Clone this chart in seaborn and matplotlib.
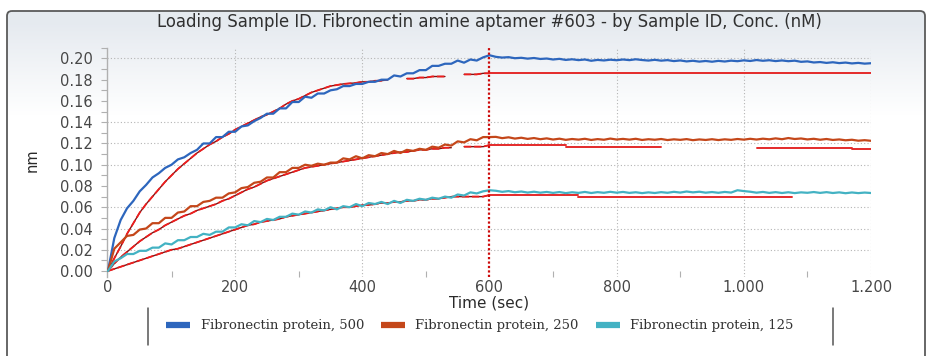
import numpy as np
import pandas as pd
import matplotlib
matplotlib.use("Agg")
import matplotlib.pyplot as plt
import seaborn as sns
from matplotlib.lines import Line2D
from matplotlib.patches import FancyBboxPatch

# ---------------- data ----------------
TIME = list(range(0, 1201, 10))          # seconds, sampling grid of the sensorgram
ASSOC_TIME = list(range(0, 601, 10))     # association phase grid for the fits

SERIES = ["Fibronectin protein, 500", "Fibronectin protein, 250", "Fibronectin protein, 125"]
COLORS = ["#2d66bd", "#c4471a", "#43b2c3"]

resp_500 = [
    0.000, 0.031, 0.048, 0.059, 0.066, 0.075, 0.081, 0.088, 0.092, 0.097,
    0.100, 0.105, 0.107, 0.111, 0.114, 0.120, 0.120, 0.126, 0.126, 0.131,
    0.131, 0.136, 0.137, 0.141, 0.144, 0.148, 0.148, 0.153, 0.153, 0.159,
    0.159, 0.164, 0.163, 0.167, 0.167, 0.170, 0.171, 0.174, 0.174, 0.176,
    0.176, 0.178, 0.178, 0.180, 0.180, 0.184, 0.183, 0.186, 0.186, 0.189,
    0.189, 0.193, 0.193, 0.195, 0.195, 0.198, 0.196, 0.199, 0.198, 0.201,
    0.203,
    0.2015, 0.2008, 0.2012, 0.2002, 0.2006, 0.1998, 0.2004, 0.1995, 0.1999, 0.1990,
    0.1996, 0.1986, 0.1992, 0.1984, 0.1990, 0.1978, 0.1986, 0.1981, 0.1988, 0.1983,
    0.1990, 0.1984, 0.1992, 0.1985, 0.1980, 0.1987, 0.1979, 0.1984, 0.1975, 0.1981,
    0.1972, 0.1978, 0.1970, 0.1976, 0.1969, 0.1977, 0.1971, 0.1979, 0.1974, 0.1982,
    0.1976, 0.1985, 0.1978, 0.1983, 0.1975, 0.1981, 0.1974, 0.1979, 0.1968, 0.1972,
    0.1962, 0.1966, 0.1958, 0.1964, 0.1956, 0.1961, 0.1953, 0.1958, 0.1951, 0.1955,
]
resp_250 = [
    0.000, 0.021, 0.027, 0.033, 0.034, 0.039, 0.040, 0.045, 0.045, 0.050,
    0.050, 0.055, 0.056, 0.061, 0.061, 0.065, 0.066, 0.069, 0.069, 0.073,
    0.074, 0.078, 0.079, 0.083, 0.084, 0.088, 0.088, 0.093, 0.093, 0.097,
    0.097, 0.100, 0.099, 0.101, 0.100, 0.102, 0.102, 0.106, 0.105, 0.108,
    0.106, 0.109, 0.108, 0.111, 0.110, 0.113, 0.111, 0.114, 0.113, 0.115,
    0.114, 0.117, 0.116, 0.119, 0.118, 0.122, 0.121, 0.124, 0.123, 0.126,
    0.126,
    0.1262, 0.1250, 0.1258, 0.1246, 0.1254, 0.1243, 0.1251, 0.1240, 0.1248, 0.1237,
    0.1245, 0.1234, 0.1242, 0.1236, 0.1244, 0.1233, 0.1241, 0.1235, 0.1246, 0.1237,
    0.1243, 0.1236, 0.1244, 0.1233, 0.1240, 0.1235, 0.1242, 0.1232, 0.1239, 0.1234,
    0.1241, 0.1231, 0.1238, 0.1233, 0.1240, 0.1232, 0.1239, 0.1234, 0.1242, 0.1236,
    0.1244, 0.1237, 0.1245, 0.1239, 0.1248, 0.1240, 0.1251, 0.1242, 0.1247, 0.1238,
    0.1244, 0.1235, 0.1242, 0.1233, 0.1238, 0.1230, 0.1235, 0.1226, 0.1231, 0.1225,
]
resp_125 = [
    0.000, 0.009, 0.012, 0.016, 0.016, 0.019, 0.019, 0.022, 0.022, 0.026,
    0.025, 0.029, 0.029, 0.032, 0.032, 0.035, 0.034, 0.037, 0.037, 0.041,
    0.041, 0.044, 0.043, 0.047, 0.046, 0.049, 0.048, 0.051, 0.051, 0.054,
    0.053, 0.056, 0.055, 0.058, 0.057, 0.060, 0.058, 0.061, 0.060, 0.063,
    0.061, 0.064, 0.063, 0.065, 0.063, 0.066, 0.064, 0.067, 0.066, 0.068,
    0.067, 0.069, 0.068, 0.070, 0.069, 0.072, 0.071, 0.074, 0.073, 0.075,
    0.076,
    0.0755, 0.0745, 0.0752, 0.0741, 0.0748, 0.0738, 0.0746, 0.0737, 0.0744, 0.0735,
    0.0743, 0.0733, 0.0741, 0.0735, 0.0744, 0.0734, 0.0742, 0.0736, 0.0745, 0.0737,
    0.0744, 0.0735, 0.0741, 0.0733, 0.0740, 0.0734, 0.0742, 0.0736, 0.0745, 0.0738,
    0.0748, 0.0740, 0.0746, 0.0737, 0.0743, 0.0736, 0.0744, 0.0738, 0.0760, 0.0752,
    0.0746, 0.0737, 0.0744, 0.0735, 0.0742, 0.0734, 0.0741, 0.0733, 0.0740, 0.0736,
    0.0743, 0.0735, 0.0742, 0.0734, 0.0740, 0.0732, 0.0739, 0.0733, 0.0738, 0.0734,
]

nan = float("nan")
# association-phase fitted curves (gaps where the fit is not drawn)
fit_500 = [
    0.000, 0.012, 0.023, 0.035, 0.045, 0.055, 0.063, 0.070, 0.077, 0.084,
    0.090, 0.096, 0.101, 0.106, 0.111, 0.115, 0.119, 0.122, 0.126, 0.129,
    0.133, 0.136, 0.139, 0.142, 0.145, 0.147, 0.150, 0.153, 0.157, 0.160,
    0.162, 0.165, 0.168, 0.170, 0.172, 0.174, 0.175, 0.176, 0.1765, 0.177,
    0.178, 0.178, 0.179, 0.179, 0.180, nan, nan, 0.181, 0.181, 0.182,
    0.182, 0.183, 0.183, 0.183, nan, nan, 0.185, 0.185, 0.185, 0.186,
    0.186,
]
fit_250 = [
    0.000, 0.007, 0.013, 0.018, 0.023, 0.028, 0.032, 0.036, 0.039, 0.043,
    0.046, 0.049, 0.052, 0.054, 0.057, 0.059, 0.061, 0.063, 0.066, 0.068,
    0.071, 0.074, 0.077, 0.079, 0.082, 0.085, 0.087, 0.089, 0.091, 0.093,
    0.095, 0.097, 0.098, 0.099, 0.100, 0.101, 0.102, 0.103, 0.104, 0.105,
    0.106, 0.107, 0.108, 0.109, 0.110, 0.111, 0.112, 0.112, 0.113, 0.114,
    0.114, 0.115, 0.115, 0.116, 0.116, nan, 0.117, 0.117, 0.117, 0.117,
    0.1185,
]
fit_125 = [
    0.000, 0.002, 0.004, 0.006, 0.008, 0.010, 0.012, 0.014, 0.016, 0.018,
    0.020, 0.021, 0.023, 0.025, 0.027, 0.029, 0.031, 0.033, 0.035, 0.037,
    0.039, 0.041, 0.043, 0.044, 0.046, 0.047, 0.048, 0.049, 0.051, 0.052,
    0.053, 0.054, 0.055, 0.056, 0.057, 0.058, 0.059, 0.060, 0.060, 0.061,
    0.062, 0.062, 0.063, 0.064, 0.064, 0.065, 0.065, 0.066, 0.066, 0.067,
    0.067, 0.068, 0.068, 0.069, 0.070, 0.070, 0.070, 0.070, 0.070, 0.070,
    0.0715,
]
# dissociation-phase fitted levels: (start s, end s, level)
fit_diss_500 = [(600, 1200, 0.186)]
fit_diss_250 = [(600, 720, 0.1185), (720, 870, 0.117), (1020, 1170, 0.116), (1170, 1200, 0.1145)]
fit_diss_125 = [(600, 740, 0.0715), (740, 1075, 0.070)]

STEP_TIME = 600
XTICKS = [0, 200, 400, 600, 800, 1000, 1200]
XTICK_LABELS = ["0", "200", "400", "600", "800", "1.000", "1.200"]
YTICKS = [0.00, 0.02, 0.04, 0.06, 0.08, 0.10, 0.12, 0.14, 0.16, 0.18, 0.20]
GRID_Y = [0.02, 0.04, 0.06, 0.10, 0.12, 0.14, 0.20]
GRID_X = [200, 400, 800, 1000, 1200]

TITLE = "Loading Sample ID. Fibronectin amine aptamer #603 - by Sample ID, Conc. (nM)"
XLABEL = "Time (sec)"
YLABEL = "nm"

# ---------------- figure ----------------
sns.set_theme(style="white")
plt.rcParams["font.family"] = ["DejaVu Sans"]

W, H = 927, 356
fig = plt.figure(figsize=(W / 100, H / 100), dpi=100)

# background gradient + frame
bg = fig.add_axes([0, 0, 1, 1], zorder=-10)
bg.axis("off")
grad = np.ones((H, 1, 3))
top_c = np.array([0.90, 0.918, 0.94])
for r in range(H):
    f = min(max((r - 11) / 90.0, 0.0), 1.0)
    grad[r, 0, :] = top_c * (1 - f) + np.array([1.0, 1.0, 1.0]) * f
bg.imshow(grad, extent=[7, 925, H + 20, 11], aspect="auto", interpolation="bilinear")
bg.add_patch(FancyBboxPatch((7, 11), 918, H + 30, boxstyle="round,pad=0,rounding_size=5",
                            fill=False, ec="#5a5a5a", lw=1.3))
bg.set_xlim(0, W)
bg.set_ylim(H, 0)

ax_l, ax_r = 107, 871
ax_t, ax_b = 47.8, 277.4
ax = fig.add_axes([ax_l / W, 1 - ax_b / H, (ax_r - ax_l) / W, (ax_b - ax_t) / H])
ax.set_facecolor("none")

# measured sensorgrams
df = pd.DataFrame({
    "Time": TIME * 3,
    "Response": resp_500 + resp_250 + resp_125,
    "Series": sum([[s] * len(TIME) for s in SERIES], []),
})
sns.lineplot(data=df, x="Time", y="Response", hue="Series", palette=COLORS,
             hue_order=SERIES, linewidth=1.6, legend=False, ax=ax, zorder=4,
             estimator=None)

# fitted curves (association)
fit_rows = []
for k, fit in enumerate((fit_500, fit_250, fit_125)):
    arr = np.array(fit, dtype=float)
    seg = np.cumsum(np.isnan(arr))
    for t, v, s in zip(ASSOC_TIME, arr, seg):
        if not np.isnan(v):
            fit_rows.append((t, v, f"a{k}_{s}"))
fit_df = pd.DataFrame(fit_rows, columns=["Time", "Response", "unit"])
sns.lineplot(data=fit_df, x="Time", y="Response", units="unit", estimator=None,
             color="#7d1212", linewidth=1.0, ax=ax, zorder=3)
sns.lineplot(data=fit_df, x="Time", y="Response", units="unit", estimator=None,
             color="#ee1d1d", linewidth=1.3, ax=ax, zorder=3.5)
for ln in ax.lines[-len(fit_df["unit"].unique()):]:
    ln.set_dashes([4, 1.6])

# fitted curves (dissociation)
diss_rows = []
for k, segs in enumerate((fit_diss_500, fit_diss_250, fit_diss_125)):
    for j, (t0, t1, v) in enumerate(segs):
        diss_rows.append((t0, v, f"d{k}_{j}"))
        diss_rows.append((t1, v, f"d{k}_{j}"))
diss_df = pd.DataFrame(diss_rows, columns=["Time", "Response", "unit"])
sns.lineplot(data=diss_df, x="Time", y="Response", units="unit", estimator=None,
             color="#e42a2a", linewidth=1.4, ax=ax, zorder=3)

# step marker at 600 s
ax.axvline(STEP_TIME, color="#cc0a0a", lw=1.6, ls=(0, (1, 1)), zorder=5)

# grid
for gy in GRID_Y:
    ax.axhline(gy, color="#b4b4b4", lw=0.8, ls=(0, (1, 2)), zorder=0)
for gx in GRID_X:
    ax.axvline(gx, color="#b4b4b4", lw=0.8, ls=(0, (1, 2)), zorder=0)

ax.set_xlim(-1.5, 1200)
ax.set_ylim(-0.006, 0.21)

ax.set_xticks(XTICKS)
ax.set_xticklabels(XTICK_LABELS)
ax.set_xticks([100, 300, 500, 700, 900, 1100], minor=True)
ax.set_yticks(YTICKS)
ax.set_yticklabels([f"{v:.2f}" for v in YTICKS])
ax.set_yticks([0.01, 0.03, 0.05, 0.07, 0.09, 0.11, 0.13, 0.15, 0.17, 0.19, 0.21], minor=True)

ax.tick_params(axis="x", which="major", bottom=True, length=0, pad=2, labelsize=10.5,
               labelcolor="#474747")
ax.tick_params(axis="x", which="minor", bottom=True, direction="in", length=4,
               color="#b0b0b0", width=0.8)
ax.tick_params(axis="y", which="both", direction="out", length=4, color="#b0b0b0", width=0.8,
               pad=6, labelsize=10.5, labelcolor="#474747", left=True)

for side in ("top", "right", "bottom"):
    ax.spines[side].set_visible(False)
ax.spines["left"].set_color("#b0b0b0")
ax.spines["left"].set_linewidth(1.0)

ax.set_xlabel(XLABEL, fontsize=11, color="#2a2a2a", labelpad=0.5)
ax.set_ylabel(YLABEL, fontsize=10.5, color="#2a2a2a")
ax.yaxis.set_label_coords(-(ax_l - 40) / (ax_r - ax_l), 0.51)

fig.text(489.5 / W, 1 - 22 / H, TITLE, ha="center", va="center", fontsize=11.9, color="#303030")

# legend
handles = [Line2D([], [], color=c, lw=4.5, solid_capstyle="butt") for c in COLORS]
leg = fig.legend(handles, SERIES, loc="center", bbox_to_anchor=(480 / W, 1 - 326 / H),
                 ncol=3, frameon=False, handlelength=1.8, handletextpad=0.8,
                 columnspacing=1.3, prop={"family": "DejaVu Serif", "size": 9.5})
for t in leg.get_texts():
    t.set_color("#333333")
for x in (148, 833):
    bg.plot([x, x], [308, 345], color="#555555", lw=1.1)

fig.savefig("out.png", dpi=100)
